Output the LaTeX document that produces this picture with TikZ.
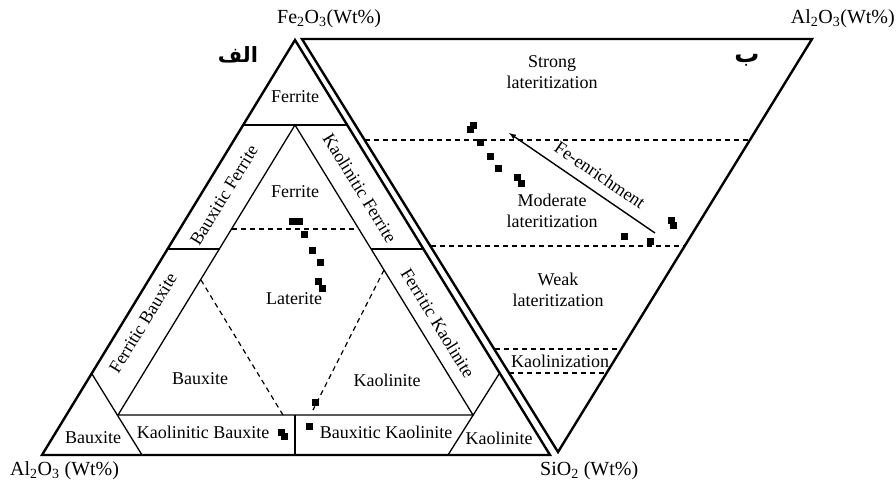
\documentclass[tikz,border=0pt]{standalone}
\usepackage{fontspec}
\setmainfont{Liberation Serif}
\newfontfamily\arabicfont[Script=Arabic]{DejaVu Sans}
\TeXXeTstate=1
\tikzset{
  zone/.style={font=\fontsize{18}{21}\selectfont, align=center, inner sep=0pt},
  axislabel/.style={font=\fontsize{20}{24}\selectfont, inner sep=0pt},
  frame/.style={line width=2.4pt},
  border/.style={line width=1.3pt},
  limit/.style={line width=1.2pt, dash pattern=on 5pt off 4pt},
}
\newcommand{\zonetext}[4]{\node[zone] (#1) at (#2,#3) {#4};}
\newcommand{\zonetilt}[5]{\node[zone,rotate=#4] (#1) at (#2,#3) {#5};}
\newcommand{\sample}[2]{\fill (#1-3.5,#2-3.5) rectangle ++(7,7);}
\newcommand{\limitline}[4]{\draw[limit] (#1,#2) -- (#3,#4);}
\begin{document}
\begin{tikzpicture}[x=1pt,y=-1pt]
    \useasboundingbox (0,0) rectangle (896,483);
    % left triangle
    \coordinate (Al) at (42,455); \coordinate (Si) at (550,455); \coordinate (Fe) at (295,40);
    \draw[frame] (Al) -- (Si) -- (Fe) -- cycle;
    \draw[border,line width=1.6pt] (244,125) -- (347,125);
    \draw[border] (118,415) -- (473,415) -- (295,125) -- cycle;
    \draw[border] (168,249) -- (220,249) (371,249) -- (423,249);
    \draw[border] (92,374) -- (142,455) (448,455) -- (499,374);
    \draw[border] (295,415) -- (295,455);
    \limitline{232}{229}{358}{229}
    \limitline{201}{280}{283}{415}
    \limitline{384}{270}{313}{410}
    % right triangle
    \coordinate (P) at (302,39); \coordinate (Q) at (812,39); \coordinate (R) at (558,452);
    \draw[frame] (P) -- (Q) -- (R) -- cycle;
    \limitline{365}{140}{749}{140}
    \limitline{431}{246}{684}{246}
    \limitline{495}{349}{617}{349}
    \limitline{509}{373}{606}{373}
    \coordinate (enrichStart) at (655,233); \coordinate (enrichEnd) at (509,133);
    \draw[line width=1.4pt,->,>=latex] (enrichStart) -- (enrichEnd);
    % labels
    \node[axislabel,anchor=west] (feTop) at (277,19) {Fe\textsubscript{2}O\textsubscript{3}(Wt\%)};
    \node[axislabel,anchor=east] (alTop) at (895,19) {Al\textsubscript{2}O\textsubscript{3}(Wt\%)};
    \node[axislabel,anchor=west] (alBottom) at (10,471) {Al\textsubscript{2}O\textsubscript{3} (Wt\%)};
    \node[axislabel,anchor=west] (siBottom) at (540,471) {SiO\textsubscript{2} (Wt\%)};
    \node[font=\fontsize{21}{24}\selectfont\arabicfont\bfseries] (alef) at (238,55) {\beginR الف\endR};
    \node[font=\fontsize{25}{28}\selectfont\arabicfont\bfseries] (be) at (747,60) {\beginR ب\endR};
    \zonetext{ferriteTop}{295}{97}{Ferrite}
    \zonetext{ferriteIn}{295}{192}{Ferrite}
    \zonetilt{bauxFerr}{224}{195}{58.5}{Bauxitic Ferrite}
    \zonetilt{kaolFerr}{360}{188}{-58.5}{Kaolinitic Ferrite}
    \zonetext{laterite}{294}{299}{Laterite}
    \zonetilt{ferrBaux}{143}{323}{58.5}{Ferritic Bauxite}
    \zonetilt{ferrKaol}{438}{323}{-58.5}{Ferritic Kaolinite}
    \zonetext{bauxiteIn}{200}{379}{Bauxite}
    \zonetext{kaoliniteIn}{387}{380}{Kaolinite}
    \zonetext{bauxiteCorner}{93}{438}{Bauxite}
    \zonetext{kaolBaux}{203}{432}{Kaolinitic Bauxite}
    \zonetext{bauxKaol}{386}{432}{Bauxitic Kaolinite}
    \zonetext{kaoliniteCorner}{499}{438}{Kaolinite}
    \zonetext{strong}{552}{72}{Strong\\lateritization}
    \zonetext{moderate}{552}{211}{Moderate\\lateritization}
    \zonetext{weak}{558}{290}{Weak\\lateritization}
    \zonetext{kaolinization}{560}{361}{Kaolinization}
    \zonetilt{enrich}{600}{175}{-34}{Fe-enrichment}
    % samples
    \sample{292}{221}\sample{299}{221}\sample{304}{234}\sample{312}{250}
    \sample{320}{262}\sample{318}{281}\sample{322}{288}
    \sample{281}{432}\sample{284}{436}\sample{309}{426}\sample{315}{402}
    \sample{470}{129}\sample{473}{125}\sample{480}{142}\sample{490}{156}
    \sample{498}{168}\sample{517}{177}\sample{521}{183}
    \sample{624}{236}\sample{650}{241}\sample{671}{220}\sample{673}{225}
\end{tikzpicture}
\end{document}
